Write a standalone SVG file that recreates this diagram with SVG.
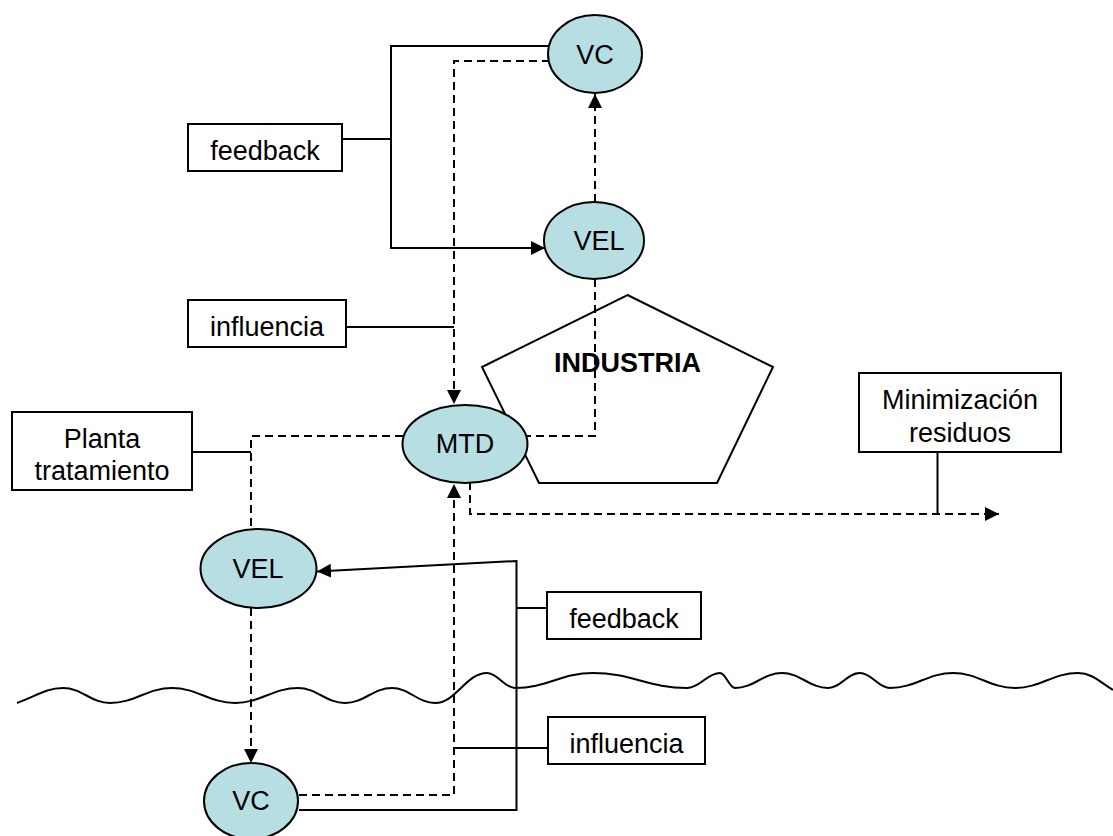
<svg xmlns="http://www.w3.org/2000/svg" width="1113" height="836" viewBox="0 0 1113 836">
  <style>
    .bg { fill: #ffffff; }
    .node { fill: #b7dee2; stroke: #000000; stroke-width: 2; }
    .box { fill: #ffffff; stroke: #000000; stroke-width: 2; }
    .shape { fill: none; stroke: #000000; stroke-width: 2; stroke-linejoin: miter; }
    .solid { fill: none; stroke: #000000; stroke-width: 2; }
    .dash { fill: none; stroke: #000000; stroke-width: 2; stroke-dasharray: 8 5; }
    .wave { fill: none; stroke: #000000; stroke-width: 2; }
    text { font-family: "Liberation Sans", Arial, sans-serif; font-size: 27px; fill: #000000; text-anchor: middle; }
    .bold { font-weight: bold; }
  </style>
  <defs>
    <marker id="arrow" markerUnits="userSpaceOnUse" markerWidth="15" markerHeight="15" refX="14" refY="7" orient="auto">
      <path d="M0,0 L14,7 L0,14 z" fill="#000000" stroke="none"/>
    </marker>
  </defs>

  <rect class="bg" x="0" y="0" width="1113" height="836"/>

  <!-- industry pentagon (drawn first so links and ellipses sit over it) -->
  <g id="industria">
    <polygon class="shape" points="627.5,295 773,367 717,483 539,483 482,367"/>
    <text class="bold" x="627.5" y="372">INDUSTRIA</text>
  </g>

  <!-- shoreline / water surface -->
  <path id="shoreline" class="wave" d="M17,703 C35,697 45,688 63,688 C82,688 91,703 110,703 C135,703 147,688 172,688 C197,688 210,703 235,703 C260,703 273,688 298,688 C317,688 326,703 345,703 C364,703 373,688 392,688 C409,688 418,703 435,703 C456,703 466,673 487,673 C498,673 504,688 515,688 C546,688 562,673 593,673 C631,673 649,688 687,688 C700,688 707,673 720,673 C726,673 729,688 735,688 C754,688 763,673 782,673 C800,673 810,688 828,688 C841,688 847,673 860,673 C872,673 878,688 890,688 C915,688 928,673 953,673 C978,673 990,688 1015,688 C1040,688 1053,673 1078,673 C1092,673 1100,682 1113,690"/>

  <g id="connectors">
    <!-- upper feedback: VC -> VEL -->
    <polyline class="solid" points="550,46 391,46 391,248 545,248" marker-end="url(#arrow)"/>
    <line class="solid" x1="342" y1="139" x2="391" y2="139"/>
    <!-- VEL -> VC (upper) -->
    <line class="dash" x1="595" y1="202" x2="595" y2="94" marker-end="url(#arrow)"/>
    <!-- upper influence: VC -> MTD -->
    <polyline class="dash" points="550,61 454,61 454,404" marker-end="url(#arrow)"/>
    <line class="solid" x1="346" y1="327" x2="454" y2="327"/>
    <!-- VEL (upper) -> MTD -->
    <polyline class="dash" points="595,279 595,436 527,436"/>
    <!-- MTD -> treatment plant VEL -->
    <polyline class="dash" points="403,436 251,436 251,529"/>
    <line class="solid" x1="192" y1="452" x2="251" y2="452"/>
    <!-- VEL (lower) -> VC (lower) -->
    <line class="dash" x1="251" y1="608" x2="251" y2="763" marker-end="url(#arrow)"/>
    <!-- lower influence: VC -> MTD -->
    <polyline class="dash" points="299,795 454,795 454,484" marker-end="url(#arrow)"/>
    <line class="solid" x1="548" y1="748" x2="454" y2="748"/>
    <!-- lower feedback: VC -> VEL -->
    <polyline class="solid" points="299,810 516.5,810 516.5,561 317,571.5" marker-end="url(#arrow)"/>
    <line class="solid" x1="547" y1="608" x2="516.5" y2="608"/>
    <!-- MTD -> waste minimisation -->
    <polyline class="dash" points="470,482 470,514 999,514" marker-end="url(#arrow)"/>
    <line class="solid" x1="937.5" y1="452" x2="937.5" y2="514"/>
  </g>

  <g id="vc-top">
    <ellipse class="node" cx="595" cy="54" rx="47" ry="39"/>
    <text x="595" y="64">VC</text>
  </g>
  <g id="vel-top">
    <ellipse class="node" cx="594" cy="240.5" rx="50" ry="38.5"/>
    <text x="599" y="250">VEL</text>
  </g>
  <g id="mtd">
    <ellipse class="node" cx="465" cy="444" rx="62.5" ry="39"/>
    <text x="465" y="453">MTD</text>
  </g>
  <g id="vel-bottom">
    <ellipse class="node" cx="258.5" cy="568.5" rx="58" ry="39.5"/>
    <text x="258" y="578">VEL</text>
  </g>
  <g id="vc-bottom">
    <ellipse class="node" cx="251" cy="801" rx="47" ry="38"/>
    <text x="251" y="810">VC</text>
  </g>

  <g id="feedback-top">
    <rect class="box" x="188" y="124" width="154" height="47"/>
    <text x="265" y="160">feedback</text>
  </g>
  <g id="influencia-top">
    <rect class="box" x="188" y="300" width="158" height="47"/>
    <text x="267" y="336">influencia</text>
  </g>
  <g id="planta-tratamiento">
    <rect class="box" x="12" y="412" width="180" height="78"/>
    <text x="102" y="448">Planta</text>
    <text x="102" y="480">tratamiento</text>
  </g>
  <g id="minimizacion-residuos">
    <rect class="box" x="859" y="373" width="202" height="79"/>
    <text x="960" y="409">Minimización</text>
    <text x="960" y="442">residuos</text>
  </g>
  <g id="feedback-bottom">
    <rect class="box" x="547" y="592" width="154" height="47"/>
    <text x="624" y="628">feedback</text>
  </g>
  <g id="influencia-bottom">
    <rect class="box" x="548" y="717" width="157" height="47"/>
    <text x="626.5" y="753">influencia</text>
  </g>
</svg>
